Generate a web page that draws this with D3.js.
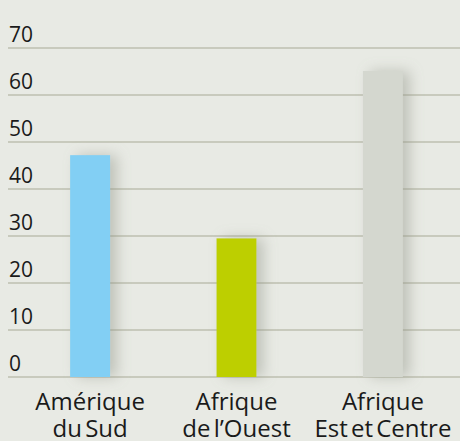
<!DOCTYPE html>
<html>
<head>
<meta charset="utf-8">
<script src="https://cdn.jsdelivr.net/npm/d3@7"></script>
<style>
  html, body { margin: 0; padding: 0; background: #e8eae4; }
  svg { display: block; font-family: "Open Sans", "Noto Sans", sans-serif; }
  .grid line { stroke: #c8cabd; stroke-width: 2; }
  .tick-label { fill: #1a1a1a; font-size: 21px; }
  .cat-label { fill: #1a1a1a; font-size: 24px; word-spacing: -3px; }
</style>
</head>
<body>
<div id="chart"></div>
<script>
// categories (two lines each) and values
var categories = ["Amérique du Sud", "Afrique de l’Ouest", "Afrique Est et Centre"];
var labelLines = [["Amérique", "du Sud"], ["Afrique", "de l’Ouest"], ["Afrique", "Est et Centre"]];
var values = [47.2, 29.5, 65.1];
var barColors = ["#82cff4", "#bdcf00", "#d4d7cf"];
var yTicks = [0, 10, 20, 30, 40, 50, 60, 70];

var width = 460, height = 441;
var svg = d3.select("#chart").append("svg")
  .attr("width", width)
  .attr("height", height);

svg.append("rect")
  .attr("width", width)
  .attr("height", height)
  .attr("fill", "#e8eae4");

// soft shadow to the right of the bars
var defs = svg.append("defs");
var f = defs.append("filter").attr("id", "shadow")
  .attr("x", "-50%").attr("y", "-20%").attr("width", "250%").attr("height", "140%");
f.append("feDropShadow")
  .attr("dx", 7).attr("dy", 0)
  .attr("stdDeviation", 7)
  .attr("flood-color", "#8e9284")
  .attr("flood-opacity", 0.45);

var y = d3.scaleLinear().domain([0, 70]).range([377, 48]);
var x = d3.scaleBand().domain(categories).range([17, 456]).paddingInner(0.727).paddingOuter(0.363);

// gridlines + labels
var grid = svg.append("g").attr("class", "grid");
grid.selectAll("line")
  .data(yTicks)
  .enter().append("line")
  .attr("x1", 8).attr("x2", width)
  .attr("y1", function(d) { return y(d); })
  .attr("y2", function(d) { return y(d); });

svg.append("g").selectAll("text")
  .data(yTicks)
  .enter().append("text")
  .attr("class", "tick-label")
  .attr("x", 9)
  .attr("y", function(d) { return y(d) - 6; })
  .text(function(d) { return d; });

// bars
svg.append("g").selectAll("rect")
  .data(values)
  .enter().append("rect")
  .attr("x", function(d, i) { return x(categories[i]); })
  .attr("width", x.bandwidth())
  .attr("y", function(d) { return y(d); })
  .attr("height", function(d) { return y(0) - y(d); })
  .attr("fill", function(d, i) { return barColors[i]; })
  .attr("filter", "url(#shadow)");

// category labels
var cat = svg.append("g").selectAll("text")
  .data(categories)
  .enter().append("text")
  .attr("class", "cat-label")
  .attr("text-anchor", "middle")
  .attr("x", function(d) { return x(d) + x.bandwidth() / 2; })
  .attr("y", 410);
cat.selectAll("tspan")
  .data(function(d, i) { return labelLines[i]; })
  .enter().append("tspan")
  .attr("x", function() { var c = d3.select(this.parentNode).datum(); return x(c) + x.bandwidth() / 2; })
  .attr("dy", function(d, i) { return i === 0 ? 0 : 27; })
  .text(function(d) { return d; });
</script>
</body>
</html>
